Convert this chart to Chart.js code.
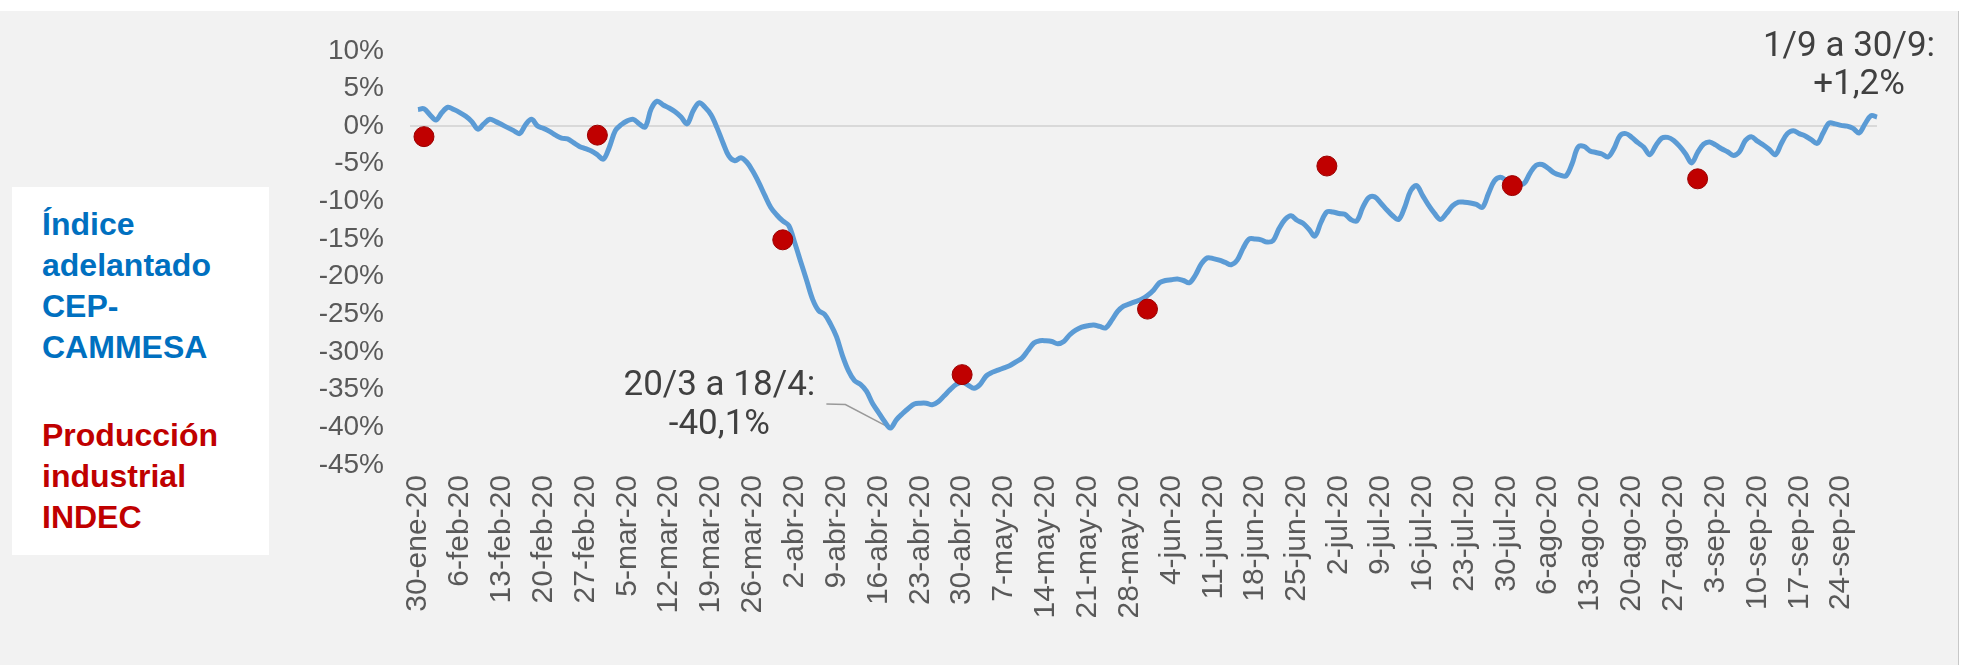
<!DOCTYPE html>
<html>
<head>
<meta charset="utf-8">
<script src="https://cdn.jsdelivr.net/npm/chart.js@4.4.0/dist/chart.umd.min.js"></script>
<style>
  body { margin: 0; background: #fff; width: 1965px; height: 670px; overflow: hidden; position: relative; }
  #panel { position: absolute; left: 0; top: 11px; width: 1958px; height: 654px; background: #f2f2f2; border-right: 1px solid #c8c8c8; }
  #legend { position: absolute; left: 12px; top: 187px; width: 257px; height: 368px; background: #fff; }
  .leg { position: absolute; left: 30px; font-family: 'Liberation Sans', Arial, sans-serif; font-weight: bold; font-size: 32px; line-height: 41px; }
  #leg1 { top: 17px; color: #0070c0; }
  #leg2 { top: 228px; color: #c00000; }
  canvas { position: absolute; left: 0; top: 0; }
</style>
</head>
<body>
<div id="panel"></div>
<div id="legend">
  <div class="leg" id="leg1">Índice<br>adelantado<br>CEP-<br>CAMMESA</div>
  <div class="leg" id="leg2">Producción<br>industrial<br>INDEC</div>
</div>
<canvas id="myChart" width="1965" height="670"></canvas>
<script>
// weekly tick labels (one every 7 days, starting 30-ene-20)
const tickLabels = ['30-ene-20', '6-feb-20', '13-feb-20', '20-feb-20', '27-feb-20', '5-mar-20', '12-mar-20',
  '19-mar-20', '26-mar-20', '2-abr-20', '9-abr-20', '16-abr-20', '23-abr-20', '30-abr-20', '7-may-20',
  '14-may-20', '21-may-20', '28-may-20', '4-jun-20', '11-jun-20', '18-jun-20', '25-jun-20', '2-jul-20',
  '9-jul-20', '16-jul-20', '23-jul-20', '30-jul-20', '6-ago-20', '13-ago-20', '20-ago-20', '27-ago-20',
  '3-sep-20', '10-sep-20', '17-sep-20', '24-sep-20'];

// Indice adelantado CEP-CAMMESA, daily, 30-ene to 30-sep (%)
const cammesa = [
  2.2, 2.3, 1.5, 0.8, 1.8, 2.5, 2.2,
  1.8, 1.3, 0.6, -0.4, 0.3, 0.9, 0.6,
  0.2, -0.2, -0.6, -1.0, 0.2, 0.9, 0.0,
  -0.3, -0.7, -1.2, -1.6, -1.7, -2.2, -2.7,
  -3.0, -3.3, -3.8, -4.4, -2.8, -0.6, 0.2,
  0.7, 0.9, 0.3, -0.1, 2.3, 3.3, 2.8,
  2.4, 1.9, 1.2, 0.3, 2.0, 3.1, 2.5,
  1.5, -0.2, -2.2, -4.0, -4.6, -4.2, -4.8,
  -6.0, -7.5, -9.2, -10.8, -11.8, -12.6, -13.2,
  -15.5, -18.0, -20.5, -23.0, -24.5, -25.0, -26.3,
  -28.0, -30.5, -32.5, -33.8, -34.3, -35.2, -36.8,
  -38.0, -39.2, -40.1, -39.0, -38.2, -37.5, -36.9,
  -36.8, -36.8, -37.0, -36.6, -35.8, -35.0, -34.3,
  -34.0, -34.4, -34.8, -34.3, -33.2, -32.7, -32.4,
  -32.1, -31.8, -31.3, -30.8, -29.8, -28.8, -28.5,
  -28.5, -28.6, -28.9, -28.6, -27.7, -27.1, -26.7,
  -26.5, -26.4, -26.6, -26.8, -25.8, -24.6, -23.9,
  -23.6, -23.3, -23.0, -22.5, -21.8, -20.8, -20.5,
  -20.4, -20.3, -20.5, -20.8, -19.8, -18.3, -17.5,
  -17.6, -17.8, -18.1, -18.4, -17.8, -16.2, -15.0,
  -15.0, -15.1, -15.4, -15.2, -13.6, -12.4, -11.9,
  -12.5, -12.9, -13.7, -14.6, -12.8, -11.4, -11.4,
  -11.6, -11.7, -12.4, -12.6, -10.8, -9.5, -9.4,
  -10.2, -11.1, -11.9, -12.4, -10.8, -8.6, -7.9,
  -9.2, -10.5, -11.6, -12.4, -11.6, -10.6, -10.1,
  -10.1, -10.2, -10.4, -10.8, -9.0, -7.3, -6.8,
  -7.2, -7.6, -7.8, -7.6, -6.2, -5.2, -5.1,
  -5.6, -6.2, -6.5, -6.6, -5.0, -2.8, -2.7,
  -3.3, -3.5, -3.7, -4.1, -3.0, -1.3, -1.0,
  -1.5, -2.2, -2.8, -3.8, -2.6, -1.6, -1.5,
  -1.9, -2.7, -3.7, -4.9, -3.5, -2.4, -2.1,
  -2.5, -3.0, -3.4, -3.9, -3.4, -1.9, -1.4,
  -2.0, -2.5, -3.1, -3.8, -2.3, -1.0, -0.6,
  -1.0, -1.3, -1.8, -2.3, -0.9, 0.4, 0.3,
  0.1, 0.0, -0.3, -0.9, 0.3, 1.4, 1.2
];

// Produccion industrial INDEC, monthly, placed on the last day of each month
const indecDays = [1, 30, 61, 91, 122, 152, 183, 214];
const indecValues = [-1.4, -1.2, -15.1, -33.0, -24.3, -5.3, -7.9, -7.0];

const categories = cammesa.map((v, i) => i % 7 === 0 ? tickLabels[i / 7] : '');
const indec = cammesa.map(() => null);
indecDays.forEach((d, k) => { indec[d] = indecValues[k]; });

const notes = {
  id: 'notes',
  beforeDatasetsDraw(chart) {
    const ctx = chart.ctx;
    const area = chart.chartArea;
    const zero = chart.scales.y.getPixelForValue(0);
    const px = chart.scales.x.getPixelForValue(79);
    const py = chart.scales.y.getPixelForValue(cammesa[79]);
    ctx.save();
    // 0% line, a bit wider than the data range
    ctx.strokeStyle = '#d9d9d9';
    ctx.lineWidth = 2;
    ctx.beginPath();
    ctx.moveTo(area.left - 8, zero);
    ctx.lineTo(area.right, zero);
    ctx.stroke();
    // leader for the minimum
    ctx.strokeStyle = '#999';
    ctx.lineWidth = 1.5;
    ctx.beginPath();
    ctx.moveTo(px - 64, py - 24);
    ctx.lineTo(px - 45, py - 23.5);
    ctx.lineTo(px - 2, py - 1);
    ctx.stroke();
    ctx.restore();
  },
  afterDatasetsDraw(chart) {
    const ctx = chart.ctx;
    const x = chart.scales.x, y = chart.scales.y;
    const mx = x.getPixelForValue(79), my = y.getPixelForValue(cammesa[79]);
    const last = cammesa.length - 1;
    const ex = x.getPixelForValue(last), ey = y.getPixelForValue(cammesa[last]);
    ctx.save();
    ctx.fillStyle = '#404040';
    ctx.font = '35px Roboto';
    ctx.textAlign = 'center';
    ctx.textBaseline = 'middle';
    ctx.fillText('20/3 a 18/4:', mx - 171, my - 42);
    ctx.fillText('-40,1%', mx - 171, my - 3);
    ctx.fillText('1/9 a 30/9:', ex - 28, ey - 70);
    ctx.fillText('+1,2%', ex - 18, ey - 32);
    ctx.restore();
  }
};

function drawChart() {
  const ctx = document.getElementById('myChart');
  const tickFont = { family: "'Liberation Sans', Arial, sans-serif", size: 28 };

  new Chart(ctx, {
    type: 'line',
    data: {
      labels: categories,
      datasets: [{
        label: 'Producción industrial INDEC',
        data: indec,
        showLine: false,
        pointRadius: 10,
        pointBackgroundColor: '#c00000',
        pointBorderColor: '#9a0000',
        pointBorderWidth: 1
      }, {
        label: 'Índice adelantado CEP-CAMMESA',
        data: cammesa,
        borderColor: '#5b9bd5',
        borderWidth: 5,
        pointRadius: 0,
        tension: 0.35
      }]
    },
    options: {
      responsive: false,
      animation: false,
      devicePixelRatio: 1,
      layout: { padding: { left: 0, top: 43, right: 88, bottom: 0 } },
      plugins: { legend: { display: false }, tooltip: { enabled: false } },
      scales: {
        x: {
          grid: { display: false },
          border: { display: false },
          afterFit: (s) => { s.height = 205; },
          ticks: {
            autoSkip: false,
            minRotation: 90,
            maxRotation: 90,
            padding: 2,
            color: '#595959',
            font: { family: "'Liberation Sans', Arial, sans-serif", size: 30 }
          }
        },
        y: {
          min: -45,
          max: 10,
          border: { display: false },
          afterFit: (s) => { s.width = 418; },
          grid: { display: false, drawTicks: false },
          ticks: {
            stepSize: 5,
            padding: 34,
            color: '#595959',
            font: tickFont,
            callback: (v) => v + '%'
          }
        }
      }
    },
    plugins: [notes]
  });
}
drawChart();
</script>
</body>
</html>
